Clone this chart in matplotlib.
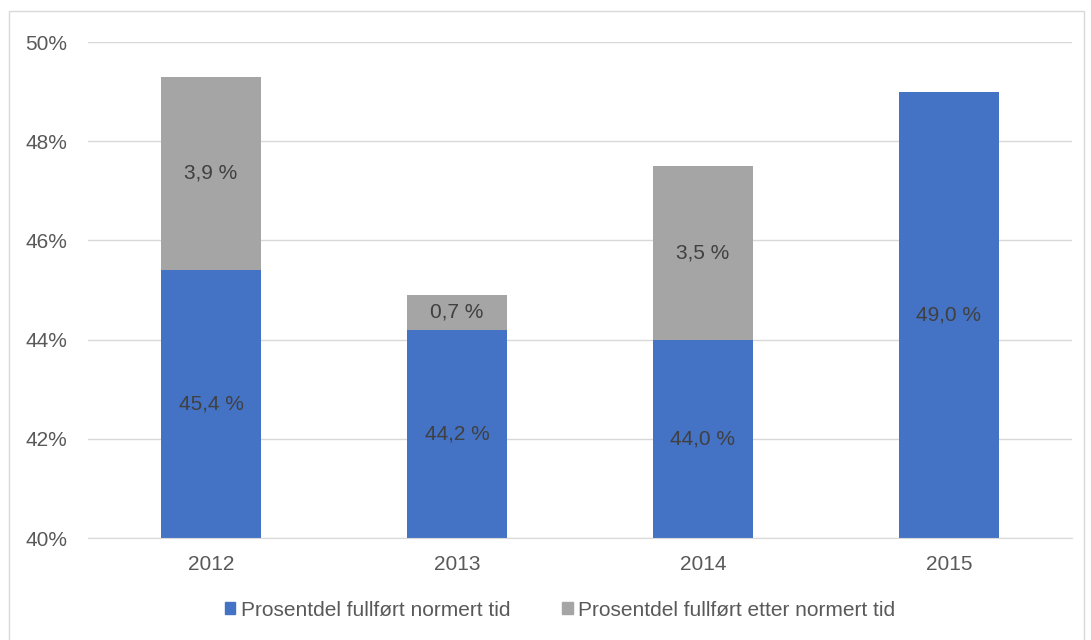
import matplotlib.pyplot as plt
from matplotlib.patches import Rectangle, Patch

plt.rcParams['font.family'] = ['Liberation Sans', 'DejaVu Sans']

years = ['2012', '2013', '2014', '2015']
normert = [45.4, 44.2, 44.0, 49.0]
etter = [3.9, 0.7, 3.5, 0.0]
yticks = [40, 42, 44, 46, 48, 50]

blue = '#4472C4'
grey = '#A5A5A5'
fs = 15

fig = plt.figure(figsize=(10.91, 6.40), dpi=100)
ax = fig.add_axes([88/1091, 1 - 538/640, (1072 - 88)/1091, (538 - 42)/640])

x = range(len(years))
w = 0.405
base = 40
ax.bar(x, [v - base for v in normert], w, bottom=base, color=blue, zorder=2)
ax.bar(x, etter, w, bottom=normert, color=grey, zorder=2)

for i in x:
    ax.text(i, (base + normert[i]) / 2, f"{normert[i]:.1f} %".replace('.', ','),
            ha='center', va='center', fontsize=fs, color='#404040', zorder=3)
    if etter[i] > 0:
        ax.text(i, normert[i] + etter[i] / 2, f"{etter[i]:.1f} %".replace('.', ','),
                ha='center', va='center', fontsize=fs, color='#404040', zorder=3)

ax.set_xlim(-0.5, 3.5)
ax.set_ylim(40, 50)
ax.set_yticks(yticks)
ax.set_yticklabels([f"{t}%" for t in yticks])
ax.set_xticks(list(x))
ax.set_xticklabels(years)
ax.tick_params(axis='both', length=0, labelsize=fs, labelcolor='#595959')
ax.tick_params(axis='y', pad=15)
ax.tick_params(axis='x', pad=12)
ax.yaxis.grid(True, color='#D9D9D9', linewidth=1, zorder=0)
for s in ['top', 'right', 'left']:
    ax.spines[s].set_visible(False)
ax.spines['bottom'].set_color('#D9D9D9')

handles = [Patch(color=blue, label='Prosentdel fullført normert tid'),
           Patch(color=grey, label='Prosentdel fullført etter normert tid')]
fig.legend(handles=handles, loc='center', bbox_to_anchor=(560/1091, 1 - 610/640),
           ncol=2, frameon=False, fontsize=fs, handlelength=0.5, handleheight=0.5,
           handletextpad=0.25, columnspacing=2.5, labelcolor='#595959')

fig.patches.append(Rectangle((9/1091, -0.01), (1084 - 9)/1091, 1 - 11/640 + 0.01,
                             transform=fig.transFigure, fill=False,
                             edgecolor='#D9D9D9', linewidth=1))

fig.savefig('out.png', dpi=100)
